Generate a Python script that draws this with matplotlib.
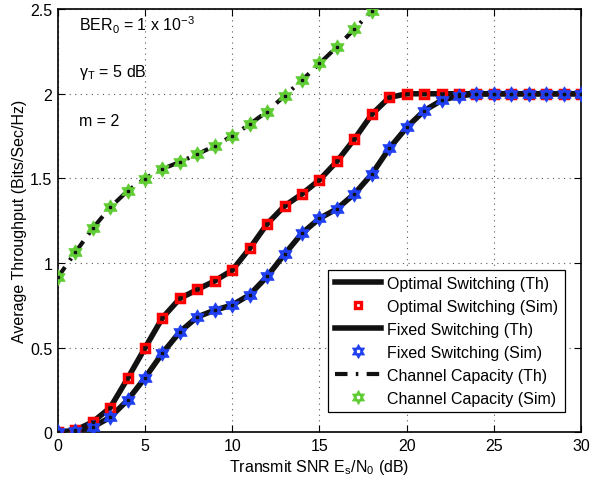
import matplotlib
matplotlib.use("Agg")
import numpy as np
import matplotlib.pyplot as plt
from matplotlib.lines import Line2D
from matplotlib.path import Path

plt.rcParams['font.family'] = ['Liberation Sans', 'DejaVu Sans']
plt.rcParams['mathtext.fontset'] = 'custom'
plt.rcParams['mathtext.rm'] = 'Liberation Sans'
plt.rcParams['mathtext.default'] = 'regular'

snr = list(range(0, 31))
optimal = [0.0, 0.01, 0.06, 0.144, 0.317, 0.498, 0.676, 0.79, 0.843, 0.894, 0.957,
           1.086, 1.231, 1.337, 1.408, 1.491, 1.6, 1.732, 1.878, 1.978, 2.0,
           2.0, 2.0, 2.0, 2.0, 2.0, 2.0, 2.0, 2.0, 2.0, 2.0]
fixed = [0.0, 0.005, 0.03, 0.087, 0.189, 0.321, 0.467, 0.593, 0.681, 0.721, 0.751,
         0.812, 0.92, 1.052, 1.176, 1.263, 1.32, 1.408, 1.525, 1.677, 1.801,
         1.9, 1.961, 1.988, 1.998, 2.0, 2.0, 2.0, 2.0, 2.0, 2.0]
snr_cap = list(range(0, 19))
capacity = [0.915, 1.062, 1.204, 1.328, 1.426, 1.499, 1.556, 1.597, 1.643, 1.692,
            1.751, 1.82, 1.895, 1.988, 2.08, 2.179, 2.277, 2.382, 2.49]

labels = ['Optimal Switching (Th)', 'Optimal Switching (Sim)', 'Fixed Switching (Th)',
          'Fixed Switching (Sim)', 'Channel Capacity (Th)', 'Channel Capacity (Sim)']

RED = '#ff0000'
BLUE = '#1f3ff0'
GREEN = '#5fcc33'
FS = 11.5

# six-pointed star (hexagram) marker path
ang = np.pi / 2 + np.arange(12) * np.pi / 6
rad = np.where(np.arange(12) % 2 == 0, 1.0, 1 / np.sqrt(3))
verts = np.column_stack([rad * np.cos(ang), rad * np.sin(ang)])
verts = np.vstack([verts, verts[:1]])
codes = [Path.MOVETO] + [Path.LINETO] * 11 + [Path.CLOSEPOLY]
hexagram = Path(verts, codes)

fig = plt.figure(figsize=(5.9, 4.85), dpi=100)
ax = fig.add_axes([0.098, 0.107, 0.887, 0.872])

ax.plot(snr, optimal, color='#111111', lw=4, solid_capstyle='round', zorder=3)
ax.plot(snr, fixed, color='#111111', lw=4, solid_capstyle='round', zorder=3)
ax.plot(snr_cap, capacity, color='#111111', lw=3, linestyle=(0, (3, 2, 0.6, 2)), zorder=3)

ax.plot(snr, optimal, linestyle='none', marker='s', markersize=5.5, markerfacecolor='none',
        markeredgecolor=RED, markeredgewidth=2.5, zorder=4)
ax.plot(snr, fixed, linestyle='none', marker=hexagram, markersize=11, markerfacecolor=BLUE,
        markeredgecolor=BLUE, markeredgewidth=0.6, zorder=5)
ax.plot(snr_cap, capacity, linestyle='none', marker=hexagram, markersize=11, markerfacecolor=GREEN,
        markeredgecolor=GREEN, markeredgewidth=0.6, zorder=5)
# center dots
ax.plot(snr, optimal, linestyle='none', marker='s', markersize=1.7, color='#111111', zorder=6)
ax.plot(snr, fixed, linestyle='none', marker='s', markersize=1.5, color='#111111', zorder=6)
ax.plot(snr_cap, capacity, linestyle='none', marker='s', markersize=1.5, color='#111111', zorder=6)

ax.set_xlim(0, 30)
ax.set_ylim(0, 2.5)
ax.set_xticks([0, 5, 10, 15, 20, 25, 30])
ax.set_yticks([0, 0.5, 1, 1.5, 2, 2.5])
ax.set_yticklabels(['0', '0.5', '1', '1.5', '2', '2.5'])
ax.tick_params(direction='in', top=True, right=True, labelsize=FS, length=5, width=0.8, pad=4)
ax.grid(True, color='0.35', linestyle=(0, (1, 4)), linewidth=0.8)
for s in ax.spines.values():
    s.set_linewidth(1.2)

ax.set_xlabel('Transmit SNR $E_s/N_0$ (dB)', fontsize=FS, labelpad=3)
ax.set_ylabel('Average Throughput (Bits/Sec/Hz)', fontsize=FS, labelpad=2)

ax.text(1.2, 2.373, r'$BER_0$ = 1 x 10$^{-3}$', fontsize=FS, va='baseline')
ax.text(1.2, 2.107, r'$\gamma_T$ = 5 dB', fontsize=FS, va='baseline')
ax.text(1.2, 1.817, 'm = 2', fontsize=FS, va='baseline')

def star_handle(color):
    return (Line2D([], [], linestyle='none', marker=hexagram, markersize=10,
                   markerfacecolor=color, markeredgecolor=color, markeredgewidth=0.6),
            Line2D([], [], linestyle='none', marker='s', markersize=1.5, color='white'))

handles = [
    Line2D([], [], color='#111111', lw=4),
    Line2D([], [], linestyle='none', marker='s', markersize=5, markerfacecolor='none',
           markeredgecolor=RED, markeredgewidth=2.4),
    Line2D([], [], color='#111111', lw=4),
    star_handle(BLUE),
    Line2D([], [], color='#111111', lw=3, linestyle=(0, (3, 2, 0.6, 2))),
    star_handle(GREEN),
]
leg = ax.legend(handles, labels, loc='lower right', bbox_to_anchor=(0.969, 0.047),
                fontsize=FS, frameon=True, fancybox=False, edgecolor='black',
                framealpha=1, handlelength=2.9, handletextpad=0.4, labelspacing=0.5,
                borderpad=0.4, borderaxespad=0)
leg.get_frame().set_linewidth(0.9)

fig.savefig('out.png', dpi=100)
